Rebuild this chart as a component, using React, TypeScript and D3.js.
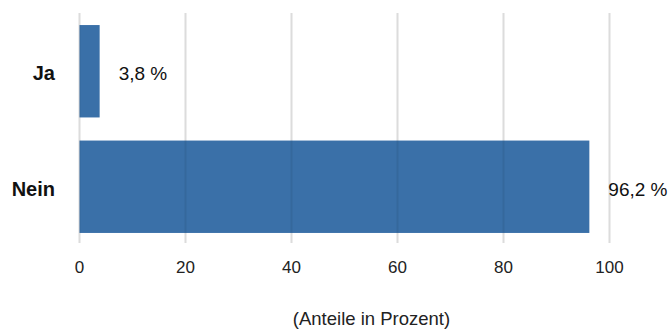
import React from "react";
import * as d3 from "d3";

const categories = ["Ja", "Nein"];
const values = [3.8, 96.2];
const valueLabels = ["3,8 %", "96,2 %"];
const xTicks = [0, 20, 40, 60, 80, 100];
const axisTitle = "(Anteile in Prozent)";

const W = 672;
const H = 329;
const FONT = "Arial, 'Liberation Sans', Helvetica, sans-serif";
const BAR = "#3a70a8";

export default function App() {
  const x = d3.scaleLinear().domain([0, 100]).range([79.5, 609.5]);
  const y = d3
    .scaleBand<string>()
    .domain(categories)
    .range([13.5, 244.5])
    .paddingInner(0.2)
    .paddingOuter(0.1);

  return (
    <svg
      width={W}
      height={H}
      style={{ position: "absolute", left: 0, top: 0, background: "#fff" }}
      fontFamily={FONT}
    >
      <rect x={0} y={0} width={W} height={H} fill="#fff" />
      {xTicks.map((t) => (
        <line
          key={t}
          x1={x(t)}
          x2={x(t)}
          y1={13}
          y2={243}
          stroke="#ededed"
          strokeWidth={2}
        />
      ))}
      {categories.map((c, i) => (
        <rect
          key={c}
          x={x(0)}
          y={y(c)!}
          width={x(values[i]) - x(0)}
          height={y.bandwidth()}
          fill={BAR}
        />
      ))}
      {xTicks.map((t) => (
        <line
          key={t + "o"}
          x1={x(t)}
          x2={x(t)}
          y1={13}
          y2={243}
          stroke="rgba(0,0,0,0.07)"
          strokeWidth={2}
        />
      ))}
      {categories.map((c, i) => {
        const cy = y(c)! + y.bandwidth() / 2;
        return (
          <g key={c + "lbl"}>
            <text
              x={55}
              y={cy + 9}
              textAnchor="end"
              fontWeight="bold"
              fontSize={20}
              fill="#111"
            >
              {c}
            </text>
            <text x={x(values[i]) + 19} y={cy + 9} fontSize={19} fill="#111">
              {valueLabels[i]}
            </text>
          </g>
        );
      })}
      {xTicks.map((t) => (
        <text
          key={t + "t"}
          x={x(t)}
          y={273}
          textAnchor="middle"
          fontSize={17}
          fill="#222"
        >
          {t}
        </text>
      ))}
      <text x={371.5} y={325} textAnchor="middle" fontSize={18.5} fill="#222">
        {axisTitle}
      </text>
    </svg>
  );
}
